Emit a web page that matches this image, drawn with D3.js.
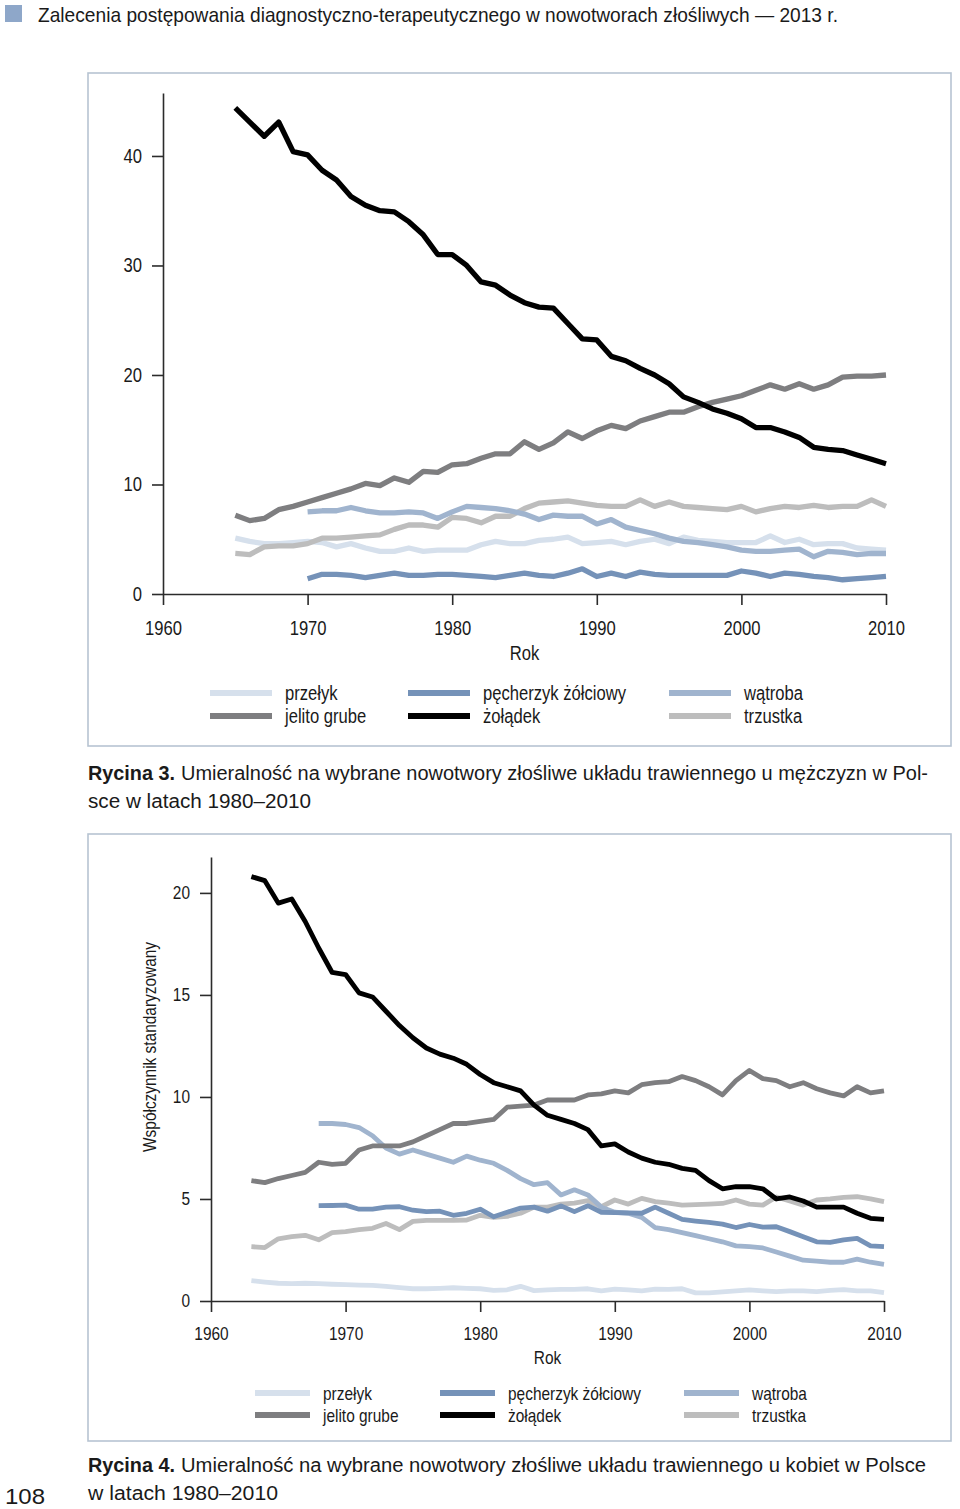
<!DOCTYPE html>
<html>
<head>
<meta charset="utf-8">
<script src="https://cdn.jsdelivr.net/npm/d3@7"></script>
<style>
  body { margin: 0; background: #fff; }
  svg { display: block; }
  text { font-family: "Liberation Sans", Arial, sans-serif; fill: #1a1a1a; }
  .tick line, .domain { stroke: #2b2b2b; stroke-width: 1.6; }
</style>
</head>
<body>
<svg id="page" width="960" height="1509"></svg>
<script>
// tick labels
var lata = [1960, 1970, 1980, 1990, 2000, 2010];
var y_ticks_m = [0, 10, 20, 30, 40];
var y_ticks_k = [0, 5, 10, 15, 20];

var nazwy = ["przełyk", "pęcherzyk żółciowy", "wątroba", "jelito grube", "żołądek", "trzustka"];
var kolory = ["#d6e0ec", "#7592b8", "#a0b4ce", "#7e7e80", "#000000", "#bdbdbd"];

// Rycina 3 - mezczyzni
var m_start = [1965, 1970, 1970, 1965, 1965, 1965];
var m_przelyk = [5.1,4.8,4.6,4.6,4.7,4.8,4.7,4.3,4.6,4.2,3.9,3.9,4.2,3.9,4.0,4.0,4.0,4.5,4.8,4.6,4.6,4.9,5.0,5.2,4.6,4.7,4.8,4.5,4.8,5.0,4.6,5.2,4.9,4.8,4.7,4.7,4.7,5.3,4.7,5.0,4.5,4.6,4.6,4.2,4.1,4.0];
var m_pecherzyk = [1.4,1.8,1.8,1.7,1.5,1.7,1.9,1.7,1.7,1.8,1.8,1.7,1.6,1.5,1.7,1.9,1.7,1.6,1.9,2.3,1.6,1.9,1.6,2.0,1.8,1.7,1.7,1.7,1.7,1.7,2.1,1.9,1.6,1.9,1.8,1.6,1.5,1.3,1.4,1.5,1.6];
var m_watroba = [7.5,7.6,7.6,7.9,7.6,7.4,7.4,7.5,7.4,6.9,7.5,8.0,7.9,7.8,7.6,7.3,6.8,7.2,7.1,7.1,6.4,6.8,6.1,5.8,5.5,5.1,4.8,4.7,4.5,4.3,4.0,3.9,3.9,4.0,4.1,3.4,3.9,3.8,3.6,3.7,3.7];
var m_jelito = [7.2,6.7,6.9,7.7,8.0,8.4,8.8,9.2,9.6,10.1,9.9,10.6,10.2,11.2,11.1,11.8,11.9,12.4,12.8,12.8,13.9,13.2,13.8,14.8,14.2,14.9,15.4,15.1,15.8,16.2,16.6,16.6,17.1,17.5,17.8,18.1,18.6,19.1,18.7,19.2,18.7,19.1,19.8,19.9,19.9,20.0];
var m_zoladek = [44.4,43.1,41.8,43.1,40.4,40.1,38.7,37.8,36.3,35.5,35.0,34.9,34.0,32.8,31.0,31.0,30.0,28.5,28.2,27.3,26.6,26.2,26.1,24.7,23.3,23.2,21.7,21.3,20.6,20.0,19.2,18.0,17.5,16.9,16.5,16.0,15.2,15.2,14.8,14.3,13.4,13.2,13.1,12.7,12.3,11.9];
var m_trzustka = [3.7,3.6,4.3,4.4,4.4,4.6,5.1,5.1,5.2,5.3,5.4,5.9,6.3,6.3,6.1,7.0,6.9,6.5,7.1,7.1,7.8,8.3,8.4,8.5,8.3,8.1,8.0,8.0,8.6,8.0,8.4,8.0,7.9,7.8,7.7,8.0,7.5,7.8,8.0,7.9,8.1,7.9,8.0,8.0,8.6,8.0];

// Rycina 4 - kobiety
var k_start = [1963, 1968, 1968, 1963, 1963, 1963];
var k_przelyk = [1.0,0.93,0.87,0.85,0.87,0.85,0.82,0.8,0.78,0.77,0.72,0.66,0.6,0.6,0.62,0.65,0.62,0.6,0.52,0.55,0.72,0.51,0.55,0.57,0.57,0.6,0.5,0.58,0.55,0.5,0.58,0.57,0.6,0.4,0.4,0.45,0.5,0.55,0.5,0.46,0.5,0.5,0.46,0.52,0.56,0.5,0.5,0.41];
var k_pecherzyk = [4.67,4.68,4.7,4.5,4.5,4.6,4.62,4.45,4.38,4.4,4.2,4.3,4.5,4.13,4.35,4.55,4.6,4.4,4.66,4.38,4.67,4.35,4.33,4.32,4.3,4.6,4.3,4.0,3.92,3.85,3.77,3.6,3.75,3.62,3.64,3.4,3.15,2.9,2.87,3.0,3.07,2.7,2.66];
var k_watroba = [8.7,8.7,8.65,8.5,8.1,7.5,7.2,7.4,7.2,7.0,6.8,7.1,6.9,6.75,6.4,6.0,5.7,5.8,5.2,5.45,5.2,4.6,4.35,4.3,4.1,3.6,3.5,3.35,3.2,3.05,2.9,2.7,2.66,2.6,2.4,2.2,2.0,1.95,1.9,1.9,2.05,1.9,1.8];
var k_jelito = [5.9,5.8,6.0,6.15,6.3,6.8,6.7,6.75,7.4,7.6,7.6,7.6,7.8,8.1,8.4,8.7,8.7,8.8,8.9,9.5,9.55,9.6,9.85,9.85,9.85,10.1,10.15,10.3,10.2,10.6,10.7,10.75,11.0,10.8,10.5,10.1,10.8,11.3,10.9,10.8,10.5,10.7,10.4,10.2,10.05,10.5,10.2,10.3];
var k_zoladek = [20.8,20.6,19.5,19.7,18.6,17.3,16.1,16.0,15.1,14.9,14.2,13.5,12.9,12.4,12.1,11.9,11.6,11.1,10.7,10.5,10.3,9.6,9.1,8.9,8.7,8.4,7.6,7.7,7.3,7.0,6.8,6.7,6.5,6.4,5.9,5.5,5.6,5.6,5.5,5.0,5.1,4.9,4.6,4.6,4.6,4.3,4.05,4.0];
var k_trzustka = [2.66,2.62,3.05,3.15,3.22,3.0,3.35,3.4,3.5,3.56,3.8,3.5,3.9,3.95,3.95,3.95,3.97,4.2,4.1,4.15,4.3,4.6,4.6,4.75,4.8,4.92,4.62,4.95,4.75,5.03,4.87,4.8,4.7,4.72,4.75,4.78,4.95,4.75,4.7,5.1,4.9,4.7,4.95,5.0,5.08,5.11,5.0,4.87];

// kolejnosc rysowania (od spodu)
var draw_order = [0, 5, 2, 1, 3, 4];

// waski krój jak w oryginale
var narrow = 0.83;

var svg = d3.select("#page");

function condense(sel, f){
    sel.each(function(){
        var w = this.getComputedTextLength();
        d3.select(this).attr("textLength", w * f).attr("lengthAdjust", "spacingAndGlyphs");
    });
}

function fit(sel, w){
    sel.attr("textLength", w).attr("lengthAdjust", "spacingAndGlyphs");
}

function draw_header(){
    svg.append("rect").attr("x", 5).attr("y", 5).attr("width", 17).attr("height", 17).style("fill", "#8ea7c9");
    svg.append("text").attr("x", 38).attr("y", 22).style("font-size", "21px")
        .text("Zalecenia postępowania diagnostyczno-terapeutycznego w nowotworach złośliwych — 2013 r.")
        .call(fit, 800);
    svg.append("text").attr("x", 5).attr("y", 1504).style("font-size", "22px").text("108")
        .call(fit, 40);
}

function draw_chart(cfg){
    var fs = 20 * cfg.s;

    svg.append("rect")
        .attr("x", cfg.box[0]).attr("y", cfg.box[1])
        .attr("width", cfg.box[2] - cfg.box[0]).attr("height", cfg.box[3] - cfg.box[1])
        .style("fill", "none").style("stroke", "#b7c4d2").style("stroke-width", 1.6);

    var x = d3.scaleLinear().domain([1960, 2010]).range([cfg.x0, cfg.x1]);
    var y = d3.scaleLinear().domain([0, cfg.ymax]).range([cfg.y0, cfg.ytop]);

    var g = svg.append("g");

    g.append("g")
        .attr("transform", "translate(0," + cfg.y0 + ")")
        .call(d3.axisBottom(x).tickValues(lata).tickFormat(d3.format("d")).tickSize(11).tickSizeOuter(0).tickPadding(cfg.xpad));

    g.append("g")
        .attr("transform", "translate(" + cfg.x0 + ",0)")
        .call(d3.axisLeft(y).tickValues(cfg.yticks).tickSize(11).tickSizeOuter(0).tickPadding(10));

    g.selectAll(".tick text")
        .style("font-size", fs + "px")
        .style("font-family", "'Liberation Sans', Arial, sans-serif")
        .style("fill", "#1a1a1a")
        .call(condense, narrow);

    g.append("text")
        .attr("x", x(1985)).attr("y", cfg.y0 + cfg.rok_dy)
        .attr("text-anchor", "middle").style("font-size", fs + "px").text("Rok")
        .call(condense, narrow);

    if(cfg.ylabel){
        g.append("text")
            .attr("transform", "translate(" + cfg.ylabel_x + "," + y(cfg.ylabel_at) + ") rotate(-90)")
            .attr("text-anchor", "middle").style("font-size", (fs - 1) + "px").text(cfg.ylabel)
            .call(fit, cfg.ylabel_w);
    }

    var line = d3.line()
        .x(function(d){ return x(d[0]); })
        .y(function(d){ return y(d[1]); });

    for(i of draw_order)
    {
        var pts = cfg.series[i].map(function(v, j){ return [cfg.start[i] + j, v]; });
        g.append("path")
            .datum(pts)
            .attr("d", line)
            .style("fill", "none")
            .style("stroke", kolory[i])
            .style("stroke-width", cfg.lw)
            .style("stroke-linejoin", "round");
    }

    // legenda
    var lg = svg.append("g").attr("class", "legend");
    for(var k = 0; k < nazwy.length; k++)
    {
        var col = k % 3, row = Math.floor(k / 3);
        var lx = cfg.leg_x[col], ly = cfg.leg_y + row * cfg.leg_dy;
        lg.append("line")
            .attr("x1", lx).attr("x2", lx + cfg.leg_w)
            .attr("y1", ly).attr("y2", ly)
            .style("stroke", kolory[k]).style("stroke-width", 6);
        lg.append("text")
            .attr("x", lx + cfg.leg_w + cfg.leg_gap).attr("y", ly + 7)
            .style("font-size", fs + "px").text(nazwy[k])
            .call(condense, narrow);
    }

    // podpis
    svg.append("text").attr("x", 88).attr("y", cfg.cap_y)
        .style("font-size", "20px").style("font-weight", "bold").text(cfg.cap_bold)
        .call(fit, 87);
    svg.append("text").attr("x", 181).attr("y", cfg.cap_y)
        .style("font-size", "20px").text(cfg.cap1)
        .call(fit, cfg.cap1_w);
    svg.append("text").attr("x", 88).attr("y", cfg.cap_y + 28)
        .style("font-size", "20px").text(cfg.cap2)
        .call(fit, cfg.cap2_w);
}

draw_header();

draw_chart({
    s: 1,
    box: [88, 73, 951, 746],
    x0: 163, x1: 886, y0: 594, ytop: 93, ymax: 45.75,
    yticks: y_ticks_m, lw: 5.3, xpad: 16, rok_dy: 66,
    start: m_start,
    series: [m_przelyk, m_pecherzyk, m_watroba, m_jelito, m_zoladek, m_trzustka],
    leg_x: [210, 408, 669], leg_w: 62, leg_gap: 13, leg_y: 693, leg_dy: 23,
    cap_y: 780, cap_bold: "Rycina 3.",
    cap1: "Umieralność na wybrane nowotwory złośliwe układu trawiennego u mężczyzn w Pol-", cap1_w: 747,
    cap2: "sce w latach 1980–2010", cap2_w: 223
});

draw_chart({
    s: 0.93,
    box: [88, 834, 951, 1441],
    x0: 211, x1: 884, y0: 1301, ytop: 857, ymax: 21.76,
    yticks: y_ticks_k, lw: 4.8, xpad: 15, rok_dy: 63,
    start: k_start,
    series: [k_przelyk, k_pecherzyk, k_watroba, k_jelito, k_zoladek, k_trzustka],
    ylabel: "Współczynnik standaryzowany", ylabel_x: 156, ylabel_at: 12.45, ylabel_w: 210,
    leg_x: [255, 440, 684], leg_w: 55, leg_gap: 13, leg_y: 1393, leg_dy: 22,
    cap_y: 1472, cap_bold: "Rycina 4.",
    cap1: "Umieralność na wybrane nowotwory złośliwe układu trawiennego u kobiet w Polsce", cap1_w: 745,
    cap2: "w latach 1980–2010", cap2_w: 190
});
</script>
</body>
</html>
